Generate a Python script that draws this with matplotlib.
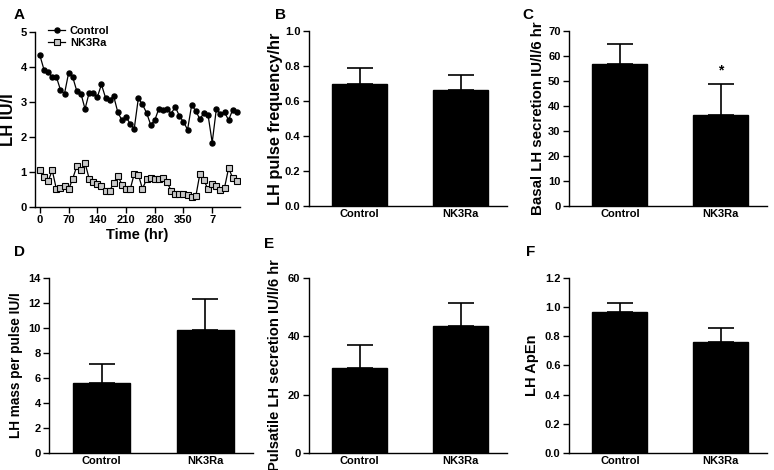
import numpy as np
import matplotlib
matplotlib.use("Agg")
import matplotlib.pyplot as plt

plt.rcParams['font.family'] = ['Liberation Sans', 'DejaVu Sans']
plt.rcParams['font.weight'] = 'bold'
plt.rcParams['axes.labelweight'] = 'bold'

# Panel A: LH time course (10-unit sampling)
time = np.arange(0, 490, 10)
control_lh = [4.33, 3.92, 3.86, 3.71, 3.72, 3.35, 3.24, 3.83, 3.71, 3.31,
              3.24, 2.80, 3.26, 3.27, 3.14, 3.50, 3.12, 3.07, 3.16, 2.70,
              2.48, 2.57, 2.38, 2.24, 3.11, 2.93, 2.69, 2.35, 2.48, 2.81,
              2.76, 2.79, 2.67, 2.86, 2.60, 2.43, 2.21, 2.92, 2.74, 2.51,
              2.69, 2.62, 1.84, 2.79, 2.67, 2.71, 2.48, 2.78, 2.71]
nk3ra_lh = [1.07, 0.86, 0.73, 1.05, 0.52, 0.54, 0.59, 0.50, 0.81, 1.17,
            1.05, 1.26, 0.81, 0.71, 0.65, 0.59, 0.46, 0.46, 0.69, 0.89,
            0.64, 0.52, 0.50, 0.95, 0.92, 0.52, 0.79, 0.83, 0.79, 0.79,
            0.83, 0.71, 0.46, 0.38, 0.38, 0.38, 0.35, 0.29, 0.30, 0.95,
            0.76, 0.50, 0.67, 0.59, 0.48, 0.55, 1.11, 0.83, 0.74]
time_ticks = [0, 70, 140, 210, 280, 350, 420]
time_ticklabels = ['0', '70', '140', '210', '280', '350', '7']

# Bar panels
groups = ['Control', 'NK3Ra']
pulse_freq = [0.70, 0.665]
pulse_freq_sem = [0.09, 0.085]
basal_secretion = [57.0, 36.5]
basal_secretion_sem = [8.0, 12.5]
mass_per_pulse = [5.6, 9.8]
mass_per_pulse_sem = [1.55, 2.5]
pulsatile_secretion = [29.0, 43.5]
pulsatile_secretion_sem = [8.0, 8.0]
apen = [0.965, 0.76]
apen_sem = [0.065, 0.095]

fig = plt.figure(figsize=(7.74, 4.70), dpi=100)


def style_axes(ax):
    for s in ['top', 'right']:
        ax.spines[s].set_visible(False)
    for s in ['left', 'bottom']:
        ax.spines[s].set_linewidth(1.0)
    ax.tick_params(axis='y', direction='out', length=4, width=1, labelsize=8, pad=2)
    ax.tick_params(axis='x', labelsize=8, pad=2)


def bar_panel(rect, vals, sems, ymax, step, ylabel, fmt, lsize, lpad):
    ax = fig.add_axes(rect)
    x = np.arange(len(groups))
    ax.bar(x, vals, width=0.545, color='black', edgecolor='black')
    ax.errorbar(x, vals, yerr=[np.zeros(len(sems)), sems], fmt='none',
                ecolor='black', elinewidth=1.2, capsize=9.5, capthick=1.2)
    ax.set_xlim(-0.505, 1.46)
    ax.set_ylim(0, ymax)
    ax.set_yticks(np.arange(0, ymax + step / 2, step))
    ax.yaxis.set_major_formatter(plt.FormatStrFormatter(fmt))
    ax.set_xticks(x)
    ax.set_xticklabels(groups)
    ax.tick_params(axis='x', length=0)
    ax.set_ylabel(ylabel, fontsize=lsize, labelpad=lpad)
    style_axes(ax)
    return ax


# Panel A
axA = fig.add_axes([0.0452, 0.5596, 0.265, 0.3724])
axA.plot(time, control_lh, color='black', lw=0.9, marker='o', ms=3.6,
         mfc='black', mec='black', label='Control')
axA.plot(time, nk3ra_lh, color='black', lw=0.9, marker='s', ms=3.8,
         mfc='#c8c8c8', mec='black', mew=0.8, label='NK3Ra')
axA.set_xlim(-12, 488)
axA.set_ylim(0, 5)
axA.set_yticks(range(6))
axA.set_xticks(time_ticks)
axA.set_xticklabels(time_ticklabels)
axA.set_xlabel('Time (hr)', fontsize=10.5, labelpad=2)
axA.set_ylabel('LH IU/I', fontsize=12, labelpad=3)
style_axes(axA)
axA.tick_params(axis='x', direction='out', length=4, width=1)
axA.legend(loc='upper left', bbox_to_anchor=(0.04, 1.06), frameon=False,
           fontsize=8, handlelength=1.6, handletextpad=0.4, labelspacing=0.15,
           borderaxespad=0)

# Panel B-F
bar_panel([0.399, 0.5617, 0.256, 0.372], pulse_freq, pulse_freq_sem, 1.0, 0.2,
          'LH pulse frequency/hr', '%.1f', 11.8, 1)
axC = bar_panel([0.735, 0.5617, 0.256, 0.372], basal_secretion, basal_secretion_sem,
                70, 10, 'Basal LH secretion IU/l/6 hr', '%d', 10.8, 2)
axC.text(1, basal_secretion[1] + basal_secretion_sem[1] + 2.5, '*', ha='center',
         va='bottom', fontsize=10)
bar_panel([0.0633, 0.0362, 0.264, 0.3723], mass_per_pulse, mass_per_pulse_sem, 14, 2,
          'LH mass per pulse IU/I', '%d', 9.8, 4)
bar_panel([0.399, 0.0362, 0.256, 0.3723], pulsatile_secretion, pulsatile_secretion_sem,
          60, 20, 'Pulsatile LH secretion IU/l/6 hr', '%d', 10.6, 4)
bar_panel([0.735, 0.0362, 0.256, 0.3723], apen, apen_sem, 1.2, 0.2,
          'LH ApEn', '%.1f', 10.5, 4)

# panel letters
for letter, (px, py) in zip('ABCDEF', [(14, 8), (275, 8), (522, 8),
                                        (14, 245), (264, 237), (526, 245)]):
    fig.text(px / 774, 1 - py / 470, letter, fontsize=11, ha='left', va='top')

fig.savefig('out.png', dpi=100)
